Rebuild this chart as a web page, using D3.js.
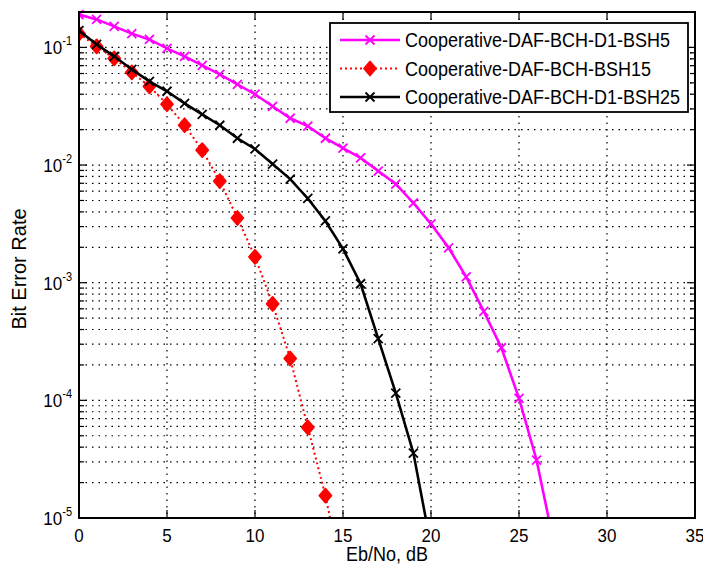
<!DOCTYPE html>
<html>
<head>
<meta charset="utf-8">
<script src="https://cdn.jsdelivr.net/npm/d3@7"></script>
<style>
  body { margin: 0; background: #fff; }
  svg { display: block; font-family: "Liberation Sans", Arial, sans-serif; }
</style>
</head>
<body>
<div id="chart"></div>
<script>
// Eb/No values (dB), one per marker
let snr_bsh5 = d3.range(0, 28);
let snr_bsh15 = d3.range(0, 16);
let snr_bsh25 = d3.range(0, 21);

let ber_bsh5 = [0.19, 0.173, 0.151, 0.131, 0.117, 0.098, 0.084, 0.0704, 0.059, 0.0486,
  0.040, 0.0316, 0.025, 0.0214, 0.0169, 0.0139, 0.0115, 0.0089, 0.0069, 0.00476,
  0.00316, 0.00198, 0.00112, 0.00057, 0.00028, 0.000104, 0.000031, 0.0000059];
let ber_bsh15 = [0.131, 0.102, 0.0807, 0.0614, 0.0467, 0.0329, 0.0218, 0.0134, 0.0073,
  0.00355, 0.00166, 0.00066, 0.000227, 0.000059, 0.0000155, 0.000003];
let ber_bsh25 = [0.139, 0.106, 0.084, 0.065, 0.0515, 0.0424, 0.0335, 0.027, 0.0218, 0.0169,
  0.0137, 0.0102, 0.0076, 0.0052, 0.00335, 0.00194, 0.00098, 0.000335, 0.000115,
  0.0000356, 0.0000058];

let legend_labels = ["Cooperative-DAF-BCH-D1-BSH5", "Cooperative-DAF-BCH-BSH15", "Cooperative-DAF-BCH-D1-BSH25"];
let x_ticks = [0, 5, 10, 15, 20, 25, 30, 35];
let y_decades = [-5, -4, -3, -2, -1];

let width = 703, height = 571;
let m_left = 79, m_right = 695, m_top = 12, m_bottom = 518;
let stretch = 1.12; // the picture's text is a little taller than it is wide

let svg = d3.select('#chart').append('svg')
  .attr('width', width).attr('height', height);

let x = d3.scaleLinear().domain([0, 35]).range([m_left, m_right]);
let y = d3.scaleLog().domain([1e-5, 0.2]).range([m_bottom, m_top]);

// text placed at (tx, ty) and stretched vertically
function addText(g, tx, ty) {
  return g.append('text')
    .attr('transform', 'translate(' + tx + ',' + ty + ') scale(1,' + stretch + ')');
}

// grid: minor + major y lines, major x lines
let grid = svg.append('g')
  .attr('stroke', '#000').attr('stroke-width', 1.2)
  .attr('stroke-dasharray', '1.5,5');

let y_grid = [];
y_decades.forEach(function(p) {
  for (let m = 1; m < 10; m++) {
    let v = m * Math.pow(10, p);
    if (v > 1e-5 && v < 0.2) y_grid.push(v);
  }
});

grid.selectAll('.hg').data(y_grid).enter().append('line')
  .attr('x1', m_left).attr('x2', m_right)
  .attr('y1', d => y(d)).attr('y2', d => y(d));

grid.selectAll('.vg').data(x_ticks.slice(1, -1)).enter().append('line')
  .attr('x1', d => x(d)).attr('x2', d => x(d))
  .attr('y1', m_top).attr('y2', m_bottom);

// inward ticks on all four sides
let ticks = svg.append('g').attr('stroke', '#000').attr('stroke-width', 1.2);
y_grid.forEach(function(v) {
  let major = Math.abs(Math.log10(v) - Math.round(Math.log10(v))) < 1e-6;
  let len = major ? 8 : 5;
  ticks.append('line').attr('x1', m_left).attr('x2', m_left + len).attr('y1', y(v)).attr('y2', y(v));
  ticks.append('line').attr('x1', m_right).attr('x2', m_right - len).attr('y1', y(v)).attr('y2', y(v));
});
x_ticks.slice(1, -1).forEach(function(t) {
  ticks.append('line').attr('x1', x(t)).attr('x2', x(t)).attr('y1', m_bottom).attr('y2', m_bottom - 8);
  ticks.append('line').attr('x1', x(t)).attr('x2', x(t)).attr('y1', m_top).attr('y2', m_top + 8);
});

// x tick labels
let xlab = svg.append('g');
x_ticks.forEach(function(t) {
  addText(xlab, x(t), 542)
    .attr('text-anchor', 'middle').attr('font-size', 17)
    .text(t);
});

// y tick labels 10^p
let ylab = svg.append('g');
y_decades.forEach(function(p) {
  let t = addText(ylab, 72, y(Math.pow(10, p)) + 7)
    .attr('text-anchor', 'end').attr('font-size', 17);
  t.append('tspan').text('10');
  t.append('tspan').attr('dy', -8).attr('font-size', 11).text('-' + Math.abs(p));
});

// axis titles
addText(svg, (m_left + m_right) / 2, 561)
  .attr('text-anchor', 'middle').attr('font-size', 18).text('Eb/No, dB');
svg.append('text')
  .attr('transform', 'translate(26,' + ((m_top + m_bottom) / 2 + 4) + ') rotate(-90)')
  .attr('text-anchor', 'middle').attr('font-size', 20).text('Bit Error Rate');

// clip for curves
svg.append('clipPath').attr('id', 'plot-clip').append('rect')
  .attr('x', m_left).attr('y', m_top - 6).attr('width', m_right - m_left).attr('height', m_bottom - m_top + 6);

let series = [
  {xs: snr_bsh5, ys: ber_bsh5, color: '#ff00ff', dash: null, marker: 'x', width: 2.6},
  {xs: snr_bsh15, ys: ber_bsh15, color: '#ff0000', dash: '2,3', marker: 'd', width: 2},
  {xs: snr_bsh25, ys: ber_bsh25, color: '#000000', dash: null, marker: 'x', width: 2.6}
];

let line = d3.line().x(d => x(d[0])).y(d => y(d[1]));

function drawMarker(g, type, cx, cy, color) {
  if (type == 'x') {
    let s = 4.5;
    g.append('path')
      .attr('d', `M${cx - s},${cy - s}L${cx + s},${cy + s}M${cx - s},${cy + s}L${cx + s},${cy - s}`)
      .attr('stroke', color).attr('stroke-width', 1.8).attr('fill', 'none');
  } else {
    g.append('path')
      .attr('d', `M${cx},${cy - 7}L${cx + 6},${cy}L${cx},${cy + 7}L${cx - 6},${cy}Z`)
      .attr('fill', color).attr('stroke', color).attr('stroke-width', 1.8)
      .attr('stroke-linejoin', 'round');
  }
}

let plot = svg.append('g').attr('clip-path', 'url(#plot-clip)');
series.forEach(function(s) {
  let pts = s.xs.map((v, i) => [v, s.ys[i]]);
  plot.append('path').datum(pts)
    .attr('d', line)
    .attr('fill', 'none')
    .attr('stroke', s.color)
    .attr('stroke-width', s.width)
    .attr('stroke-dasharray', s.dash);
  pts.forEach(function(p) {
    drawMarker(plot, s.marker, x(p[0]), y(p[1]), s.color);
  });
});

// plot box
svg.append('rect')
  .attr('x', m_left).attr('y', m_top).attr('width', m_right - m_left).attr('height', m_bottom - m_top)
  .attr('fill', 'none').attr('stroke', '#000').attr('stroke-width', 2);

// legend
let legend = svg.append('g');
legend.append('rect')
  .attr('x', 330).attr('y', 23).attr('width', 358).attr('height', 89)
  .attr('fill', '#fff').attr('stroke', '#000').attr('stroke-width', 1.8);
series.forEach(function(s, i) {
  let ly = 40 + i * 28.5;
  legend.append('line')
    .attr('x1', 340).attr('x2', 400).attr('y1', ly).attr('y2', ly)
    .attr('stroke', s.color).attr('stroke-width', s.width)
    .attr('stroke-dasharray', s.dash);
  drawMarker(legend, s.marker, 370, ly, s.color);
  addText(legend, 405, ly + 7)
    .attr('font-size', 18)
    .text(legend_labels[i]);
});
</script>
</body>
</html>
